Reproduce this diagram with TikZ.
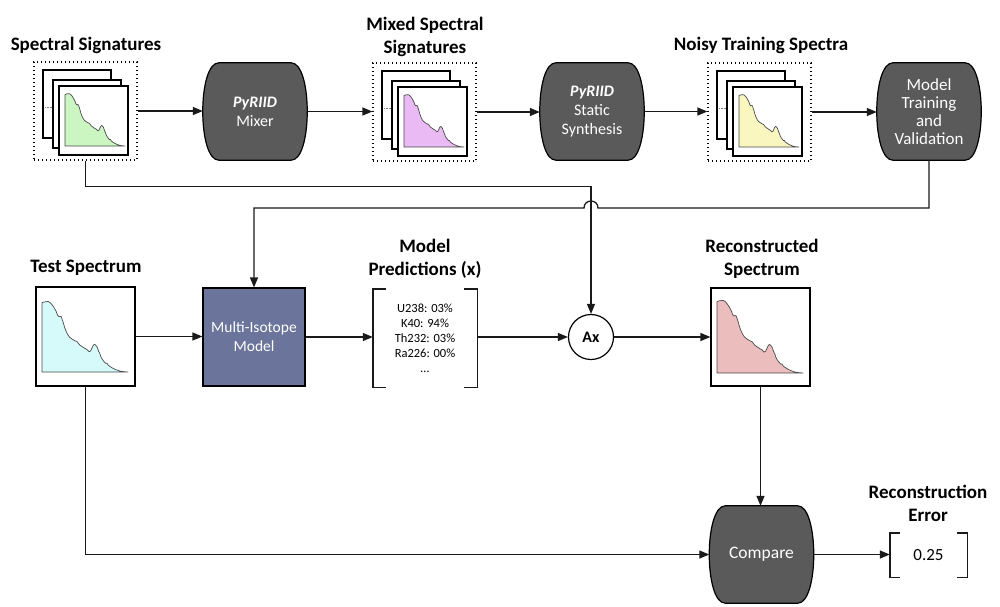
\documentclass[tikz,border=0pt]{standalone}
\usepackage{fontspec}
\setmainfont{Carlito}
\usetikzlibrary{arrows.meta,backgrounds,calc}
\definecolor{barrelgray}{HTML}{5A5A5A}
\definecolor{slate}{HTML}{6B749B}
\definecolor{specgreen}{HTML}{CBF5C1}
\definecolor{specviolet}{HTML}{E9BAF3}
\definecolor{specyellow}{HTML}{FAF6C0}
\definecolor{speccyan}{HTML}{D6FAFA}
\definecolor{specpink}{HTML}{EBBDBD}
\definecolor{specline}{HTML}{4A4A4A}
\definecolor{linec}{HTML}{1A1A1A}
\tikzset{
  title/.style={font=\fontsize{19}{23}\selectfont\bfseries, align=center, inner sep=0pt},
  conn/.style={line width=1.3pt, draw=linec, -{Triangle[length=10pt,width=8pt]}},
  brk/.style={line width=1.4pt, draw=linec},
  barrelnode/.style={minimum width=104pt, minimum height=97pt, inner sep=0pt, text=white, align=center, font=\fontsize{16}{19}\selectfont},
  barrelfill/.style={fill=barrelgray, draw=black, line width=1.2pt},
  dotbox/.style={minimum width=103pt, minimum height=98pt, inner sep=0pt, draw=black, line width=1.2pt, dash pattern=on 1.4pt off 2.6pt},
  pagebox/.style={draw=black, fill=white, line width=1.1pt},
  pagedots/.style={draw=gray, line width=0.6pt, dash pattern=on 0.6pt off 0.9pt},
  specbox/.style={draw=black, line width=1.2pt, fill=white, inner sep=0pt},
}
\newcommand\spectrum[5]{%
  \begin{scope}[shift={(#1,#2)}, xscale=#3, yscale=#4]
    \filldraw[fill=#5, draw=specline, line width=0.7pt, line join=round]
      (0,0) -- plot[smooth, tension=0.4] coordinates {(0,-69.3) (2,-70) (4.3,-70.3) (6,-70.5) (7.7,-69.7) (9,-68.5) (10.3,-67) (12,-64.5) (14.3,-60.3) (15.5,-57) (17,-55.3) (18,-55.8) (19.3,-55.3) (20,-53) (21,-50.3) (22.5,-45) (24.3,-40.3) (26,-37) (27.7,-34.7) (30,-33) (32.7,-31.3) (35,-30.5) (37.7,-27) (40,-25.5) (42.7,-23.7) (45,-22.5) (47,-20.3) (48.5,-21) (50.3,-24.7) (51.5,-27) (52.7,-27.7) (54,-26.5) (55,-25.3) (56.5,-21) (57.7,-18.7) (59,-15) (60.3,-12.7) (62,-10.5) (63.7,-8.7) (65,-8.8) (66,-7) (68,-5.5) (71,-3.7) (74,-2.3) (77.7,-1) (82,-0.3) (86,0)} -- cycle;
  \end{scope}}
\newcommand\stackbox[4]{%
  \node[dotbox] (#1) at (#2+51.5,#3+49) {};
  \draw[pagebox] (#2+9,#3+8) rectangle ++(68,68);
  \draw[pagedots] (#2+11,#3+45) -- ++(7,0);
  \draw[pagebox] (#2+19,#3+18) rectangle ++(68,68);
  \draw[pagebox] (#2+25,#3+24) rectangle ++(69,69);
  \spectrum{#2+31}{#3+84}{0.698}{0.743}{#4}}
\newcommand\barrelshape[1]{%
  \filldraw[barrelfill] ($(#1.north west)+(16,0)$) -- ($(#1.north east)+(-16,0)$)
    .. controls ($(#1.north east)+(5.4,0)$) and ($(#1.south east)+(5.4,0)$) .. ($(#1.south east)+(-16,0)$)
    -- ($(#1.south west)+(16,0)$)
    .. controls ($(#1.south west)+(-5.4,0)$) and ($(#1.north west)+(-5.4,0)$) .. cycle;}
\begin{document}
\begin{tikzpicture}[x=1pt,y=-1pt]
\begin{pgfonlayer}{background}
  \fill[white] (0,0) rectangle (1000,606);
\end{pgfonlayer}
\useasboundingbox (0,0) rectangle (1000,606);

% titles
\node[title] (t1) at (86,45) {Spectral Signatures};
\node[title] (t2) at (425,37) {Mixed Spectral\\Signatures};
\node[title] (t3) at (761,45) {Noisy Training Spectra};
\node[title] (t4) at (86,268) {Test Spectrum};
\node[title] (t5) at (425,259) {Model\\Predictions (x)};
\node[title] (t6) at (762,259) {Reconstructed\\Spectrum};
\node[title] (t7) at (928,503) {Reconstruction\\Error};

% top row
\stackbox{s1}{34}{62}{specgreen}
\stackbox{s2}{373}{63}{specviolet}
\stackbox{s3}{708}{63}{specyellow}

\node[barrelnode] (mix) at (255,111.5) {\textbf{\textit{PyRIID}}\\Mixer};
\node[barrelnode] (syn) at (592,111.5) {\textbf{\textit{PyRIID}}\\Static\\Synthesis};
\node[barrelnode, font=\fontsize{17}{18}\selectfont] (mt) at (929,111.5) {Model\\Training\\and\\Validation};
\node[barrelnode, font=\fontsize{17.5}{19}\selectfont] (cmp) at (761.5,554.5) {Compare};
\begin{pgfonlayer}{background}
  \barrelshape{mix}
  \barrelshape{syn}
  \barrelshape{mt}
  \barrelshape{cmp}
\end{pgfonlayer}

% bottom row
\node[specbox, minimum width=99pt, minimum height=99pt] (test) at (85.5,336.5) {};
\spectrum{42}{372}{1}{1}{speccyan}
\node[draw=black, line width=1.2pt, fill=slate, minimum width=102pt, minimum height=98pt, text=white, align=center, font=\fontsize{15.5}{19}\selectfont] (mim) at (254,337) {Multi-Isotope\\Model};
\node[minimum width=104pt, minimum height=98pt, inner sep=0pt, align=center, font=\fontsize{12.5}{15}\selectfont] (preds) at (425,338) {U238: 03\%\\K40: 94\%\\Th232: 03\%\\Ra226: 00\%\\…};
\draw[brk] ([xshift=13pt]preds.north west) -- (preds.north west) -- (preds.south west) -- ([xshift=13pt]preds.south west);
\draw[brk] ([xshift=-13pt]preds.north east) -- (preds.north east) -- (preds.south east) -- ([xshift=-13pt]preds.south east);
\node[circle, draw=black, line width=1.2pt, minimum size=45pt, inner sep=0pt, font=\fontsize{16}{18}\selectfont\bfseries] (ax) at (591,337) {Ax};
\node[specbox, minimum width=99pt, minimum height=98pt] (rec) at (760.5,337) {};
\spectrum{717}{373}{1}{1.03}{specpink}
\node[minimum width=77pt, minimum height=44pt, inner sep=0pt, font=\fontsize{17}{19}\selectfont] (err) at (928.5,555) {0.25};
\draw[brk] ([xshift=10pt]err.north west) -- (err.north west) -- (err.south west) -- ([xshift=10pt]err.south west);
\draw[brk] ([xshift=-10pt]err.north east) -- (err.north east) -- (err.south east) -- ([xshift=-10pt]err.south east);

% connectors
\draw[conn] (s1.east) -- (s1.east -| mix.west);
\draw[conn] (mix.east) -- (mix.east -| s2.west);
\draw[conn] (s2.east) -- (s2.east -| syn.west);
\draw[conn] (syn.east) -- (syn.east -| s3.west);
\draw[conn] (s3.east) -- (s3.east -| mt.west);
\draw[conn] (s1.south) -- ++(0,26) -| (ax.north);
\draw[conn] (mt.south) |- (598,208) .. controls (598,198.7) and (584,198.7) .. (584,208) -| (mim.north);
\draw[conn] (test.east) -- (test.east -| mim.west);
\draw[conn] (mim.east) -- (mim.east -| preds.west);
\draw[conn] (ax.west -| preds.east) -- (ax.west);
\draw[conn] (ax.east) -- (ax.east -| rec.west);
\draw[conn] (rec.south) -- (rec.south |- cmp.north);
\draw[conn] (test.south) |- (cmp.west);
\draw[conn] (cmp.east) -- (cmp.east -| err.west);
\end{tikzpicture}
\end{document}
